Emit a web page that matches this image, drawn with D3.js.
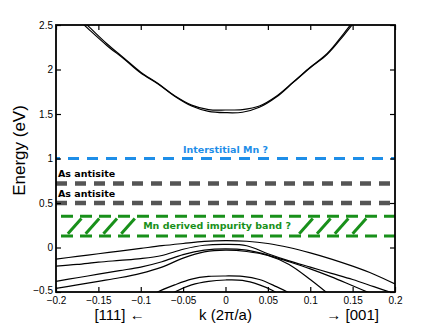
<!DOCTYPE html>
<html>
<head>
<meta charset="utf-8">
<script src="https://cdn.jsdelivr.net/npm/d3@7"></script>
<style>
  body { margin: 0; background: #fff; }
  svg { display: block; }
</style>
</head>
<body>
<div class="chart"></div>
<script>
/******************** data ********************/
// conduction band (two nearly degenerate branches)
const kCB = [-0.18, -0.16, -0.14, -0.12, -0.10, -0.08, -0.06, -0.04, -0.02, 0, 0.02, 0.04, 0.06, 0.08, 0.10, 0.12, 0.14, 0.16];
const cbLower = [2.62, 2.44, 2.27, 2.12, 1.96, 1.84, 1.70, 1.59, 1.53, 1.515, 1.52, 1.575, 1.69, 1.855, 2.02, 2.17, 2.39, 2.63];
const cbUpper = [2.65, 2.47, 2.29, 2.13, 1.97, 1.845, 1.705, 1.60, 1.55, 1.545, 1.55, 1.59, 1.70, 1.86, 2.025, 2.18, 2.41, 2.66];

// valence bands
const kVB = [-0.2, -0.175, -0.15, -0.125, -0.1, -0.075, -0.05, -0.025, 0, 0.025, 0.05, 0.075, 0.1, 0.125, 0.15, 0.175, 0.2];
const vb1 = [-0.13, -0.10, -0.07, -0.04, -0.01, 0.02, 0.045, 0.068, 0.077, 0.07, 0.045, 0.0, -0.06, -0.13, -0.21, -0.30, -0.41];
const vb2 = [-0.21, -0.19, -0.165, -0.145, -0.125, -0.09, -0.02, 0.025, 0.035, 0.02, -0.07, -0.15, -0.22, -0.29, -0.36, -0.44, -0.52];
const vb3 = [-0.38, -0.34, -0.30, -0.26, -0.22, -0.16, -0.08, -0.03, -0.015, -0.03, -0.085, -0.16, -0.24, -0.33, -0.43, -0.53, -0.63];
const vb4 = [-0.46, -0.42, -0.38, -0.34, -0.29, -0.22, -0.12, -0.05, -0.03, -0.045, -0.09, -0.19, -0.36, -0.55, -0.75, -0.95, -1.15];

// deeper bands near the bottom
const kArc1 = [-0.09, -0.08, -0.06, -0.04, -0.02, 0, 0.02, 0.04, 0.06, 0.075, 0.085];
const arc1 = [-0.56, -0.50, -0.42, -0.355, -0.325, -0.32, -0.325, -0.36, -0.44, -0.51, -0.57];
const kArc2 = [-0.07, -0.06, -0.04, -0.02, 0, 0.02, 0.04, 0.055, 0.065];
const arc2 = [-0.56, -0.50, -0.42, -0.38, -0.365, -0.37, -0.42, -0.48, -0.54];

// defect levels
const levelNames = ['Interstitial Mn ?', 'As antisite', 'As antisite'];
const levelValues = [1.0, 0.72, 0.5];
const levelColors = ['#1e8ee8', '#555555', '#555555'];

// Mn impurity band
const impurityName = 'Mn derived impurity band ?';
const impurityEdges = [0.13, 0.35];
const hatchK = [-0.178, -0.157, -0.136, -0.115, 0.095, 0.116, 0.137, 0.158];

// axes
const xTicks = [-0.2, -0.15, -0.1, -0.05, 0, 0.05, 0.1, 0.15, 0.2];
const yTicks = [-0.5, 0, 0.5, 1, 1.5, 2, 2.5];

/******************** layout ********************/
const W = 436, H = 328;
const margin = {top: 25, right: 41, bottom: 36, left: 56};
const FONT = '"Liberation Sans", Arial, Helvetica, sans-serif';
const NOTE_FONT = '"DejaVu Sans", Verdana, sans-serif';
const green = '#18901a';

const x = d3.scaleLinear().domain([-0.2, 0.2]).range([margin.left, W - margin.right]);
const y = d3.scaleLinear().domain([-0.5, 2.5]).range([H - margin.bottom, margin.top]);

const svg = d3.select('.chart').append('svg')
  .attr('width', W)
  .attr('height', H)
  .attr('font-family', FONT);

svg.append('clipPath').attr('id', 'plot-clip')
  .append('rect')
    .attr('x', x(-0.2))
    .attr('y', y(2.5))
    .attr('width', x(0.2) - x(-0.2))
    .attr('height', y(-0.5) - y(2.5));

const plot = svg.append('g').attr('clip-path', 'url(#plot-clip)');

/******************** bands ********************/
const line = d3.line()
  .x(d => x(d[0]))
  .y(d => y(d[1]))
  .curve(d3.curveCatmullRom.alpha(0.5));

const bands = [
  [kCB, cbLower], [kCB, cbUpper],
  [kVB, vb1], [kVB, vb2], [kVB, vb3], [kVB, vb4],
  [kArc1, arc1], [kArc2, arc2]
];

plot.append('g')
  .selectAll('path')
  .data(bands)
  .join('path')
    .attr('d', ([ks, es]) => line(ks.map((k, i) => [k, es[i]])))
    .attr('fill', 'none')
    .attr('stroke', '#000')
    .attr('stroke-width', 1.2);

/******************** defect levels ********************/
plot.append('g')
  .selectAll('line')
  .data(levelValues)
  .join('line')
    .attr('x1', x(-0.2))
    .attr('x2', x(0.2))
    .attr('y1', d => y(d))
    .attr('y2', d => y(d))
    .attr('stroke', (_, i) => levelColors[i])
    .attr('stroke-width', (_, i) => i ? 4.5 : 3)
    .attr('stroke-dasharray', '11,8')
    .attr('stroke-dashoffset', (_, i) => i ? 0 : -12);

svg.append('g')
  .attr('font-family', NOTE_FONT)
  .attr('font-weight', 'bold')
  .attr('font-size', '9.5px')
  .selectAll('text')
  .data(levelValues)
  .join('text')
    .attr('x', (_, i) => i ? x(-0.2) + 2 : x(0))
    .attr('y', d => y(d) - 6)
    .attr('text-anchor', (_, i) => i ? 'start' : 'middle')
    .attr('fill', (_, i) => i ? '#000' : levelColors[i])
    .text((_, i) => levelNames[i]);

/******************** impurity band ********************/
plot.append('g')
  .selectAll('line')
  .data(impurityEdges)
  .join('line')
    .attr('x1', x(-0.2))
    .attr('x2', x(0.2))
    .attr('y1', d => y(d))
    .attr('y2', d => y(d))
    .attr('stroke', green)
    .attr('stroke-width', 3)
    .attr('stroke-dasharray', '12,7')
    .attr('stroke-dashoffset', -5);

const hatchLo = impurityEdges[0] + 0.025, hatchHi = impurityEdges[1] - 0.025;
plot.append('g')
  .selectAll('line')
  .data(hatchK)
  .join('line')
    .attr('x1', d => x(d - 0.008))
    .attr('x2', d => x(d + 0.008))
    .attr('y1', y(hatchLo))
    .attr('y2', y(hatchHi))
    .attr('stroke', green)
    .attr('stroke-width', 3);

svg.append('text')
  .attr('x', x(-0.01))
  .attr('y', y(d3.mean(impurityEdges)) + 2.5)
  .attr('text-anchor', 'middle')
  .attr('font-family', NOTE_FONT)
  .attr('font-weight', 'bold')
  .attr('font-size', '9.5px')
  .attr('fill', green)
  .text(impurityName);

/******************** axes ********************/
const fmt = d3.format('');
svg.append('g')
  .attr('transform', `translate(0,${y(-0.5)})`)
  .call(d3.axisBottom(x).tickValues(xTicks).tickSize(-5).tickPadding(5).tickFormat(fmt))
  .call(g => g.select('.domain').remove());
svg.append('g')
  .attr('transform', `translate(${x(-0.2)},0)`)
  .call(d3.axisLeft(y).tickValues(yTicks).tickSize(-5).tickPadding(3).tickFormat(fmt))
  .call(g => g.select('.domain').remove())
  // 코너 레이블(-0.5)이 x축 레이블과 겹치지 않게 살짝 위로
  .call(g => g.selectAll('.tick text').filter(d => d === -0.5).attr('dy', '0.1em'));
svg.append('g')
  .attr('transform', `translate(0,${y(2.5)})`)
  .call(d3.axisTop(x).tickValues(xTicks).tickSize(-5).tickFormat(''))
  .call(g => g.select('.domain').remove());
svg.append('g')
  .attr('transform', `translate(${x(0.2)},0)`)
  .call(d3.axisRight(y).tickValues(yTicks).tickSize(-5).tickFormat(''))
  .call(g => g.select('.domain').remove());

svg.selectAll('.tick line').attr('stroke', '#000').attr('stroke-width', 1.2);
svg.selectAll('.tick text')
  .attr('font-family', FONT)
  .attr('font-size', '10px')
  .attr('fill', '#000');

// box
svg.append('rect')
  .attr('x', x(-0.2))
  .attr('y', y(2.5))
  .attr('width', x(0.2) - x(-0.2))
  .attr('height', y(-0.5) - y(2.5))
  .attr('fill', 'none')
  .attr('stroke', '#000')
  .attr('stroke-width', 1.8);

/******************** axis labels ********************/
svg.append('text')
  .attr('transform', `translate(25,${(y(-0.5) + y(2.5)) / 2 - 8}) rotate(-90)`)
  .attr('text-anchor', 'middle')
  .attr('font-size', '17px')
  .text('Energy (eV)');

svg.append('text')
  .attr('x', x(0))
  .attr('y', 320)
  .attr('text-anchor', 'middle')
  .attr('font-size', '15px')
  .text('k (2\u03c0/a)');

svg.append('text')
  .attr('x', x(-0.125))
  .attr('y', 320)
  .attr('text-anchor', 'middle')
  .attr('font-size', '15px')
  .text('[111] \u2190');

svg.append('text')
  .attr('x', x(0.15))
  .attr('y', 320)
  .attr('text-anchor', 'middle')
  .attr('font-size', '15px')
  .text('\u2192 [001]');
</script>
</body>
</html>
